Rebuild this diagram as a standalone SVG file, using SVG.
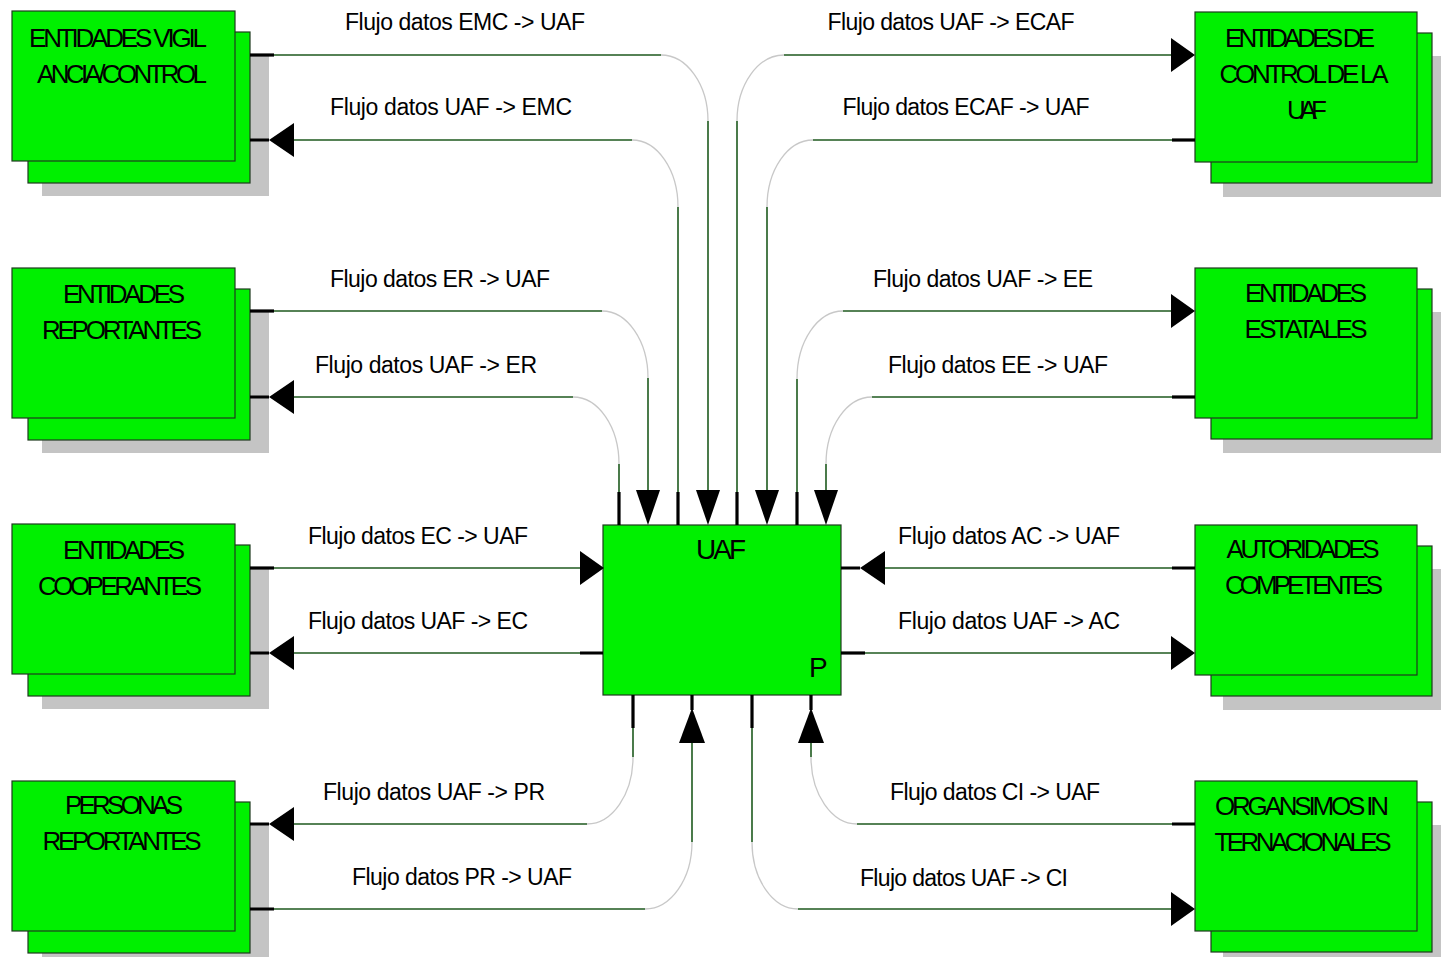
<svg xmlns="http://www.w3.org/2000/svg" xmlns:xlink="http://www.w3.org/1999/xlink" width="1441" height="957" viewBox="0 0 1441 957">
<style>
.shadow{fill:#c4c4c4;stroke:none}
.box{fill:#00f000;stroke:#1e3a1e;stroke-width:1.2}
.ln{fill:none;stroke:#1f5a1f;stroke-width:1.6}
.cv{fill:none;stroke:#c8c8c8;stroke-width:1.3}
.stub{fill:none;stroke:#000;stroke-width:3.2}
.ah{fill:#000}
.lbl{font-family:"Liberation Sans",Arial,sans-serif;font-size:23px;fill:#000;text-anchor:middle}
.ntx{font-family:"Liberation Sans",Arial,sans-serif;font-size:26px;fill:#000;text-anchor:middle}
.utx{font-family:"Liberation Sans",Arial,sans-serif;font-size:28px;fill:#000}
</style>
<defs>
<path id="aL" d="M0,0 L25,-17 L25,17 Z"/>
<path id="aR" d="M0,0 L-24,-17 L-24,17 Z"/>
<path id="aD" d="M0,0 L-12,-35 L12,-35 Z"/>
<path id="aU" d="M0,0 L-13,35 L13,35 Z"/>
</defs>
<rect width="1441" height="957" fill="#fff"/>

<g id="node-emc">
<rect class="shadow" x="42" y="55" width="227" height="141"/>
<rect class="box" x="28" y="32" width="222" height="151"/>
<rect class="box" x="12" y="11" width="223" height="150"/>
<text class="ntx" x="118" y="47" textLength="178" lengthAdjust="spacing">ENTIDADES VIGIL</text>
<text class="ntx" x="122" y="83" textLength="170" lengthAdjust="spacing">ANCIA/CONTROL</text>
</g>
<g id="node-er">
<rect class="shadow" x="42" y="312" width="227" height="141"/>
<rect class="box" x="28" y="289" width="222" height="151"/>
<rect class="box" x="12" y="268" width="223" height="150"/>
<text class="ntx" x="124" y="303" textLength="122" lengthAdjust="spacing">ENTIDADES</text>
<text class="ntx" x="122" y="339" textLength="160" lengthAdjust="spacing">REPORTANTES</text>
</g>
<g id="node-ec">
<rect class="shadow" x="42" y="568" width="227" height="141"/>
<rect class="box" x="28" y="545" width="222" height="151"/>
<rect class="box" x="12" y="524" width="223" height="150"/>
<text class="ntx" x="124" y="559" textLength="122" lengthAdjust="spacing">ENTIDADES</text>
<text class="ntx" x="120" y="595" textLength="164" lengthAdjust="spacing">COOPERANTES</text>
</g>
<g id="node-pr">
<rect class="shadow" x="42" y="825" width="227" height="141"/>
<rect class="box" x="28" y="802" width="222" height="151"/>
<rect class="box" x="12" y="781" width="223" height="150"/>
<text class="ntx" x="124" y="814" textLength="118" lengthAdjust="spacing">PERSONAS</text>
<text class="ntx" x="122" y="850" textLength="159" lengthAdjust="spacing">REPORTANTES</text>
</g>

<g id="node-ecaf">
<rect class="shadow" x="1223" y="56" width="230" height="141"/>
<rect class="box" x="1211" y="33" width="221" height="150"/>
<rect class="box" x="1195" y="12" width="222" height="150"/>
<text class="ntx" x="1300" y="47" textLength="150" lengthAdjust="spacing">ENTIDADES DE</text>
<text class="ntx" x="1304" y="83" textLength="169" lengthAdjust="spacing">CONTROL DE LA</text>
<text class="ntx" x="1307" y="119" textLength="40" lengthAdjust="spacing">UAF</text>
</g>
<g id="node-ee">
<rect class="shadow" x="1223" y="312" width="230" height="141"/>
<rect class="box" x="1211" y="289" width="221" height="150"/>
<rect class="box" x="1195" y="268" width="222" height="150"/>
<text class="ntx" x="1306" y="302" textLength="122" lengthAdjust="spacing">ENTIDADES</text>
<text class="ntx" x="1306" y="338" textLength="123" lengthAdjust="spacing">ESTATALES</text>
</g>
<g id="node-ac">
<rect class="shadow" x="1223" y="569" width="230" height="141"/>
<rect class="box" x="1211" y="546" width="221" height="150"/>
<rect class="box" x="1195" y="525" width="222" height="150"/>
<text class="ntx" x="1303" y="558" textLength="153" lengthAdjust="spacing">AUTORIDADES</text>
<text class="ntx" x="1304" y="594" textLength="158" lengthAdjust="spacing">COMPETENTES</text>
</g>
<g id="node-ci">
<rect class="shadow" x="1223" y="825" width="230" height="141"/>
<rect class="box" x="1211" y="802" width="221" height="150"/>
<rect class="box" x="1195" y="781" width="222" height="150"/>
<text class="ntx" x="1302" y="815" textLength="174" lengthAdjust="spacing">ORGANSIMOS IN</text>
<text class="ntx" x="1303" y="851" textLength="177" lengthAdjust="spacing">TERNACIONALES</text>
</g>

<g id="node-uaf">
<rect class="box" x="603" y="525" width="238" height="170"/>
<text class="utx" x="721" y="559" text-anchor="middle" textLength="50" lengthAdjust="spacing">UAF</text>
<text class="utx" x="809" y="677">P</text>
</g>

<g id="connectors">
<!-- EMC -> UAF -->
<path class="ln" d="M250,55 H661 M708,121 V492"/>
<path class="cv" d="M661,55 A47,66 0 0 1 708,121"/>
<path class="stub" d="M250,55 H274"/>
<use href="#aD" class="ah" x="708" y="525"/>
<!-- UAF -> EMC -->
<path class="ln" d="M678,492 V207 M632,140 H293"/>
<path class="cv" d="M678,207 A46,67 0 0 0 632,140"/>
<path class="stub" d="M678,492 V525 M250,140 H269"/>
<use href="#aL" class="ah" x="269" y="140"/>
<!-- UAF -> ECAF -->
<path class="ln" d="M737,492 V121 M784,55 H1172"/>
<path class="cv" d="M737,121 A47,66 0 0 1 784,55"/>
<path class="stub" d="M737,492 V525"/>
<use href="#aR" class="ah" x="1195" y="55"/>
<!-- ECAF -> UAF -->
<path class="ln" d="M1172,140 H813 M767,207 V492"/>
<path class="cv" d="M813,140 A46,67 0 0 0 767,207"/>
<path class="stub" d="M1172,140 H1195"/>
<use href="#aD" class="ah" x="767" y="525"/>
<!-- ER -> UAF -->
<path class="ln" d="M250,311 H602 M648,378 V492"/>
<path class="cv" d="M602,311 A46,67 0 0 1 648,378"/>
<path class="stub" d="M250,311 H274"/>
<use href="#aD" class="ah" x="648" y="525"/>
<!-- UAF -> ER -->
<path class="ln" d="M619,492 V464 M573,397 H293"/>
<path class="cv" d="M619,464 A46,67 0 0 0 573,397"/>
<path class="stub" d="M619,492 V525 M250,397 H269"/>
<use href="#aL" class="ah" x="269" y="397"/>
<!-- UAF -> EE -->
<path class="ln" d="M797,492 V379 M843,311 H1172"/>
<path class="cv" d="M797,379 A46,68 0 0 1 843,311"/>
<path class="stub" d="M797,492 V525"/>
<use href="#aR" class="ah" x="1195" y="311"/>
<!-- EE -> UAF -->
<path class="ln" d="M1172,397 H872 M826,464 V492"/>
<path class="cv" d="M872,397 A46,67 0 0 0 826,464"/>
<path class="stub" d="M1172,397 H1195"/>
<use href="#aD" class="ah" x="826" y="525"/>
<!-- EC -> UAF -->
<path class="ln" d="M250,568 H580"/>
<path class="stub" d="M250,568 H274"/>
<use href="#aR" class="ah" x="604" y="568"/>
<!-- UAF -> EC -->
<path class="ln" d="M580,653 H293"/>
<path class="stub" d="M580,653 H603 M250,653 H269"/>
<use href="#aL" class="ah" x="269" y="653"/>
<!-- AC -> UAF -->
<path class="ln" d="M1172,568 H885"/>
<path class="stub" d="M1172,568 H1195 M841,568 H860"/>
<use href="#aL" class="ah" x="860" y="568"/>
<!-- UAF -> AC -->
<path class="ln" d="M865,653 H1172"/>
<path class="stub" d="M841,653 H865"/>
<use href="#aR" class="ah" x="1195" y="653"/>
<!-- UAF -> PR -->
<path class="ln" d="M633,728 V757 M587,824 H293"/>
<path class="cv" d="M633,757 A46,67 0 0 1 587,824"/>
<path class="stub" d="M633,695 V728 M250,824 H269"/>
<use href="#aL" class="ah" x="269" y="824"/>
<!-- PR -> UAF -->
<path class="ln" d="M250,909 H645 M692,842 V743"/>
<path class="cv" d="M645,909 A47,67 0 0 0 692,842"/>
<path class="stub" d="M250,909 H274 M692,695 V710"/>
<use href="#aU" class="ah" x="692" y="708"/>
<!-- UAF -> CI -->
<path class="ln" d="M752,728 V842 M798,909 H1172"/>
<path class="cv" d="M752,842 A46,67 0 0 0 798,909"/>
<path class="stub" d="M752,695 V728"/>
<use href="#aR" class="ah" x="1195" y="909"/>
<!-- CI -> UAF -->
<path class="ln" d="M1172,824 H857 M811,757 V743"/>
<path class="cv" d="M857,824 A46,67 0 0 1 811,757"/>
<path class="stub" d="M1172,824 H1195 M811,695 V710"/>
<use href="#aU" class="ah" x="811" y="708"/>

<text class="lbl" x="465" y="30" textLength="240" lengthAdjust="spacing">Flujo datos EMC -&gt; UAF</text>
<text class="lbl" x="451" y="115" textLength="242" lengthAdjust="spacing">Flujo datos UAF -&gt; EMC</text>
<text class="lbl" x="440" y="287" textLength="220" lengthAdjust="spacing">Flujo datos ER -&gt; UAF</text>
<text class="lbl" x="426" y="373" textLength="222" lengthAdjust="spacing">Flujo datos UAF -&gt; ER</text>
<text class="lbl" x="418" y="544" textLength="220" lengthAdjust="spacing">Flujo datos EC -&gt; UAF</text>
<text class="lbl" x="418" y="629" textLength="220" lengthAdjust="spacing">Flujo datos UAF -&gt; EC</text>
<text class="lbl" x="434" y="800" textLength="222" lengthAdjust="spacing">Flujo datos UAF -&gt; PR</text>
<text class="lbl" x="462" y="885" textLength="220" lengthAdjust="spacing">Flujo datos PR -&gt; UAF</text>
<text class="lbl" x="951" y="30" textLength="247" lengthAdjust="spacing">Flujo datos UAF -&gt; ECAF</text>
<text class="lbl" x="966" y="115" textLength="247" lengthAdjust="spacing">Flujo datos ECAF -&gt; UAF</text>
<text class="lbl" x="983" y="287" textLength="220" lengthAdjust="spacing">Flujo datos UAF -&gt; EE</text>
<text class="lbl" x="998" y="373" textLength="220" lengthAdjust="spacing">Flujo datos EE -&gt; UAF</text>
<text class="lbl" x="1009" y="544" textLength="222" lengthAdjust="spacing">Flujo datos AC -&gt; UAF</text>
<text class="lbl" x="1009" y="629" textLength="222" lengthAdjust="spacing">Flujo datos UAF -&gt; AC</text>
<text class="lbl" x="995" y="800" textLength="210" lengthAdjust="spacing">Flujo datos CI -&gt; UAF</text>
<text class="lbl" x="964" y="886" textLength="208" lengthAdjust="spacing">Flujo datos UAF -&gt; CI</text>
</g>
</svg>
